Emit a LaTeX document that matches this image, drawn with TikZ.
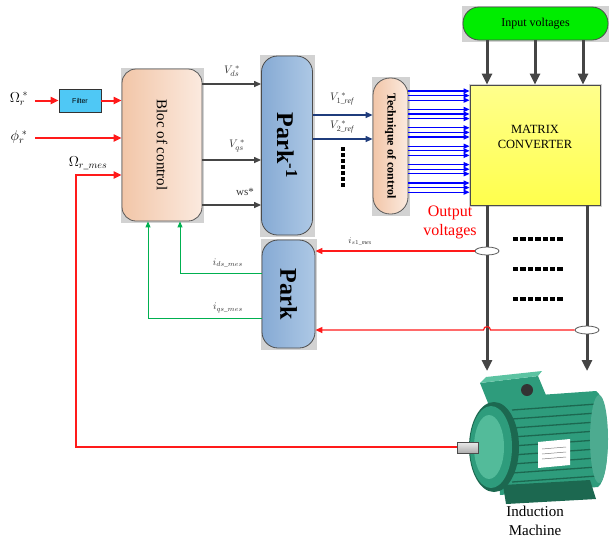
\documentclass[tikz,border=0pt]{standalone}
\usepackage{fontspec}
\usepackage{amsmath}
\setmainfont{Liberation Serif}
\newfontfamily\filterfont{Liberation Sans}
\usetikzlibrary{arrows.meta,shapes.geometric,backgrounds}

\definecolor{peachL}{HTML}{F2C6A8}
\definecolor{peachR}{HTML}{FBEADF}
\definecolor{parkL}{HTML}{86AAD4}
\definecolor{parkR}{HTML}{ADC8E5}
\definecolor{filterblue}{HTML}{4FC8F5}
\definecolor{arrowgray}{HTML}{454545}
\definecolor{refnavy}{HTML}{1F3C7C}
\definecolor{fbgreen}{HTML}{00B050}
\definecolor{fbred}{HTML}{FF1A1A}
\definecolor{motorgreen}{HTML}{2E9C7C}
\definecolor{motordark}{HTML}{1C6850}
\definecolor{motorlight}{HTML}{5CC3A2}

\tikzset{
  ctrlbox/.style={draw=gray!70!black, line width=0.8pt, rounded corners=14pt, left color=peachL, right color=peachR},
  parkbox/.style={draw=gray!60!black, line width=0.8pt, rounded corners=16pt, left color=parkL, right color=parkR},
  mcbox/.style={draw=gray!60!black, line width=0.8pt, top color=yellow!45, bottom color=yellow!70, minimum width=130pt, minimum height=120pt},
  invbox/.style={draw=gray!60!black, line width=0.8pt, rounded corners=16pt, fill=green!93!black, minimum width=145pt, minimum height=33pt, font=\fontsize{12}{14}\selectfont},
  filterbox/.style={draw=black!80, line width=0.8pt, fill=filterblue, minimum width=42pt, minimum height=23pt, font=\filterfont\fontsize{7}{8}\selectfont},
  sensor/.style={ellipse, draw=gray!70!black, fill=white, line width=0.8pt, minimum width=24pt, minimum height=8pt, inner sep=0pt},
  lbl/.style={text=black!80, font=\fontsize{11}{12}\selectfont},
  inarrow/.style={fbred, line width=2pt, -{Triangle[length=8pt,width=7pt]}},
  grayarrow/.style={arrowgray, line width=1.2pt, -{Triangle[length=7pt,width=6pt]}},
  navyarrow/.style={refnavy, line width=1.2pt, -{Triangle[length=7pt,width=6pt]}},
  bluearrow/.style={blue, line width=1.2pt, -{Triangle[length=6pt,width=5pt]}},
  powerarrow/.style={arrowgray, line width=3pt, -{Triangle[length=11pt,width=10pt]}},
  fbline/.style={draw=fbred, line width=1.2pt, -{Triangle[length=7pt,width=6pt]}},
  greenline/.style={fbgreen, line width=1pt, -{Triangle[length=6pt,width=5pt]}}
}

\begin{document}
\begin{tikzpicture}[x=1pt,y=-1pt]
	\useasboundingbox (0,0) rectangle (609,539);

	%BLOCKS
	\node[filterbox] (filter) at (80,100.5) {Filter};
	\node[ctrlbox, minimum width=80pt, minimum height=152pt] (bloc) at (162,145) {};
	\node[rotate=-90, font=\fontsize{15}{17}\selectfont] at (bloc.center) {Bloc of control};
	\node[parkbox, minimum width=51pt, minimum height=179pt] (parkinv) at (287,145.5) {};
	\node[rotate=-90, font=\bfseries\fontsize{24}{26}\selectfont] at (parkinv.center) {Park\textsuperscript{-1}};
	\node[parkbox, minimum width=53pt, minimum height=108pt] (park) at (288.5,294) {};
	\node[rotate=-90, font=\bfseries\fontsize{24}{26}\selectfont] at (park.center) {Park};
	\node[ctrlbox, rounded corners=17pt, minimum width=35pt, minimum height=136pt] (tech) at (390.5,146) {};
	\node[rotate=-90, font=\bfseries\fontsize{12}{14}\selectfont] at (tech.center) {Technique of control};
	\node[mcbox] (mc) at (535,145) {};
	\node[align=center, font=\fontsize{12.5}{15}\selectfont] at (535,137) {MATRIX\\CONVERTER};
	\node[invbox] (inv) at (535.5,23.5) {Input voltages};

	\begin{scope}[on background layer]
	\foreach \n in {bloc,parkinv,park,tech,inv,mc}
	\fill[gray!35] ([xshift=-1pt,yshift=-2pt]\n.south west) rectangle ([xshift=2pt,yshift=1pt]\n.north east);
	\end{scope}

	%INPUTS
	\node[font=\fontsize{14}{16}\selectfont] (wref) at (19,99) {$\Omega_r^{\;*}$};
	\node[font=\fontsize{14}{16}\selectfont] (phiref) at (19,137) {$\phi_r^{\;*}$};
	\node[font=\fontsize{14}{16}\selectfont] (wmes) at (88,163) {$\Omega_{r\_mes}$};
	\draw[inarrow] ([xshift=3pt]wref.east |- filter.west) -- (filter.west);
	\draw[inarrow] (filter.east) -- (filter.east -| bloc.west);
	\draw[inarrow] (35,138) -- (bloc.west |- 0,138);

	%BLOC -> PARK-1
	\draw[grayarrow] (bloc.east |- 0,84) -- (parkinv.west |- 0,84);
	\draw[grayarrow] (bloc.east |- 0,160) -- (parkinv.west |- 0,160);
	\draw[grayarrow] (bloc.east |- 0,205) -- (parkinv.west |- 0,205);
	\node[lbl] (vds) at (232,71) {$V_{ds}^{\;*}$};
	\node[lbl] (vqs) at (237,146) {$V_{qs}^{\;*}$};
	\node[lbl] (ws) at (245,192) {ws*};

	%PARK-1 -> TECHNIQUE
	\draw[navyarrow] (parkinv.east |- 0,115) -- (tech.west |- 0,115);
	\draw[navyarrow] (parkinv.east |- 0,139) -- (tech.west |- 0,139);
	\node[lbl] (v1) at (342,99) {$V_{1\_\mathit{r\acute{e}f}}^{\;*}$};
	\node[lbl] (v2) at (342,127) {$V_{2\_\mathit{r\acute{e}f}}^{\;*}$};
	\foreach \k in {0,...,6}
	\fill (341,147+\k*6) rectangle +(4,3.5);

	%TECHNIQUE -> MATRIX CONVERTER
	\foreach \g in {0,...,5}{
	\foreach \i in {0,1,2}
	\draw[bluearrow] (tech.east |- 0,91+\g*18.4+\i*4.6) -- (mc.west |- 0,91+\g*18.4+\i*4.6);
	}

	%POWER
	\foreach \x in {487,535,583}
	\draw[powerarrow] (inv.south -| \x,0) -- (mc.north -| \x,0);
	\coordinate (mota) at (487,371);
	\coordinate (motb) at (587,371);
	\draw[powerarrow] (mc.south -| mota) -- (mota);
	\draw[powerarrow] (mc.south -| motb) -- (motb);
	\node[red, align=center, font=\fontsize{16}{19}\selectfont] (outv) at (450,222) {Output\\voltages};
	\foreach \r in {239,269,299}{
	\foreach \k in {0,...,6}
	\fill (513+\k*7.4,\r-1.8) rectangle +(5.4,3.6);
	}

	%CURRENT FEEDBACK
	\node[sensor] (s1) at (487,251) {};
	\node[sensor] (s2) at (587,330) {};
	\draw[fbline] (s1.west) -- (s1.west -| park.east);
	\draw[fbline] (s2.west) -- (490.5,330) .. controls (490.5,325.5) and (483.5,325.5) .. (483.5,330) -- (park.east |- s2.west);
	\node[lbl, font=\fontsize{9}{10}\selectfont] (is1) at (360,241) {$i_{s1\_\mathit{m\acute{e}s}}$};
	\draw[greenline] (park.west |- 0,273) -| (bloc.south -| 180,0);
	\draw[greenline] (park.west |- 0,318) -| (bloc.south -| 148,0);
	\node[lbl, font=\fontsize{10}{11}\selectfont] (ids) at (228,263) {$i_{ds\_mes}$};
	\node[lbl, font=\fontsize{10}{11}\selectfont] (iqs) at (228,308) {$i_{qs\_mes}$};

	%INDUCTION MACHINE
	\fill[motorgreen] (497,398) -- (596,391) .. controls (611,400) and (611,478) .. (598,487) -- (500,495) -- cycle;
	\foreach \k in {0,...,8}
	\draw[motordark, line width=1.3pt] (512,410+\k*9) -- (597,404+\k*9);
	\fill[motorgreen!85!white] (599,439) ellipse [x radius=9, y radius=44];
	\fill[motordark] (503,485) -- (590,480) -- (596,499) -- (506,504) -- cycle;
	\fill[motorgreen] (480,383) -- (538,376) -- (548,400) -- (490,408) -- cycle;
	\fill[motorlight] (480,383) -- (538,376) -- (542,371) -- (486,377) -- cycle;
	\fill[black!80] (527,390) circle (6);
	\fill[motordark] (494,447) ellipse [x radius=25, y radius=45];
	\fill[motorgreen] (491,447) ellipse [x radius=21, y radius=41];
	\fill[motorlight!80!motorgreen] (489,447) ellipse [x radius=15, y radius=32];
	\fill[white] (538,442) -- (570,439) -- (570,465) -- (538,468) -- cycle;
	\foreach \k in {0,1,2}
	\draw[gray, line width=0.5pt] (542,449+\k*5) -- (566,447+\k*5);
	\fill[top color=gray!15, bottom color=gray!65] (457,442) rectangle (478,453);
	\draw[gray!60!black, line width=0.4pt] (457,442) rectangle (478,453);
	\coordinate (shaft) at (457,447);
	\node[align=center, font=\fontsize{15}{19}\selectfont] (im) at (535,521) {Induction\\Machine};

	%SPEED FEEDBACK
	\draw[fbred, line width=2.2pt, -{Triangle[length=8pt,width=7pt]}] (shaft) -| (76,175) -- (bloc.west |- 0,175);
\end{tikzpicture}
\end{document}
